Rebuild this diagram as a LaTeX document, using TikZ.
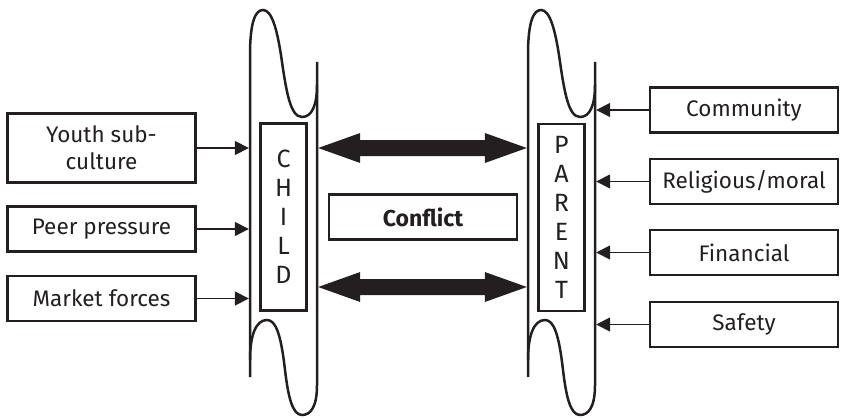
\documentclass[tikz,border=0pt]{standalone}
\usepackage{fontspec}
\setmainfont{Fira Sans}
\usetikzlibrary{arrows.meta,calc}
\definecolor{ink}{HTML}{231F20}
\begin{document}
\begin{tikzpicture}[x=1pt,y=-1pt,line width=2.5pt,color=ink,
  box/.style={draw,minimum width=188pt,minimum height=45pt,inner sep=0pt,align=center,font=\fontsize{22.5}{27}\selectfont},
  feed/.style={line width=1.7pt,-{Triangle[length=14pt,width=14pt]},shorten >=1.2pt},
  letters/.style={draw,minimum width=46pt,minimum height=187pt,inner sep=0pt,align=center,font=\fontsize{25}{29}\selectfont},
  scroll/.pic={
    \draw (0,377) -- (0,55) .. controls (0,20) and (6,10) .. (13,10)
      .. controls (22,10) and (27,30) .. (31,55)
      .. controls (36,90) and (40,117) .. (52,117)
      .. controls (62,117) and (67,105) .. (67,85);
    \draw (67,62) -- (67,385) .. controls (67,408) and (60,415) .. (52,415)
      .. controls (42,415) and (38,395) .. (35,370)
      .. controls (31,335) and (26,320) .. (17,320)
      .. controls (6,320) and (0,335) .. (0,360);
    \coordinate (-L) at (0,0);
    \coordinate (-R) at (67,0);
  }]
\useasboundingbox (0,0) rectangle (842,417);
\pic (child) at (250,0) {scroll};
\pic (parent) at (528,0) {scroll};
\node[letters] (childbox) at (283.5,217) {C\\H\\I\\L\\D};
\node[letters] (parentbox) at (561.5,217.5) {P\\A\\R\\E\\N\\T};
\node[box,font=\fontsize{23}{27}\selectfont\bfseries] (conflict) at (423,217) {Conflict};
% left boxes
\node[box,minimum height=69pt] (youth) at (101.5,148) {Youth sub-\\culture};
\node[box] (peer) at (101.5,229) {Peer pressure};
\node[box] (market) at (101.5,298.5) {Market forces};
% right boxes
\node[box] (comm) at (744,110) {Community};
\node[box] (relig) at (744,181.5) {Religious/moral};
\node[box] (fin) at (744,252.5) {Financial};
\node[box] (safe) at (744,324.5) {Safety};
% feed arrows
\foreach \n in {youth,peer,market}
  \draw[feed] (\n.east) -- (\n.east -| child-L);
\foreach \n in {comm,relig,fin,safe}
  \draw[feed] (\n.west) -- (\n.west -| parent-R);
% big double arrows
\foreach \yy/\nm in {148/u,287/d}{
  \coordinate (\nm a) at ($(child-R)+(1.2,\yy)$);
  \coordinate (\nm b) at ($(parent-L)+(-1.2,\yy)$);
  \fill (\nm a) -- ++(42,-15) -- ++(0,7) -- ($(\nm b)+(-42,-8)$) -- ++(0,-7) -- (\nm b)
    -- ++(-42,15) -- ++(0,-7) -- ($(\nm a)+(42,8)$) -- ++(0,7) -- cycle;
}
\end{tikzpicture}
\end{document}
